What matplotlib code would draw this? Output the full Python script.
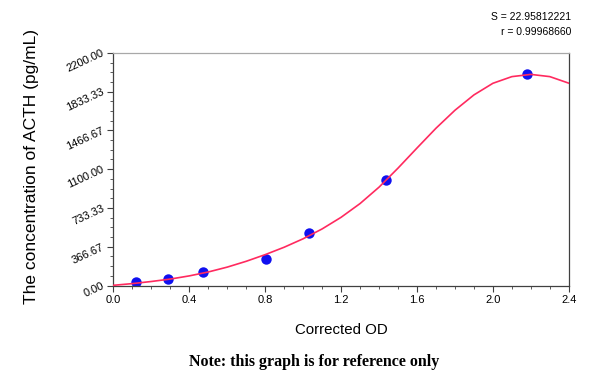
import numpy as np
import matplotlib
matplotlib.use("Agg")
import matplotlib.pyplot as plt
from matplotlib.ticker import MultipleLocator, FormatStrFormatter

# standards: corrected OD vs ACTH concentration
od = [0.118, 0.290, 0.474, 0.802, 1.032, 1.435, 2.179]
conc = [31.25, 62.5, 125, 250, 500, 1000, 2000]

# fitted curve, every 0.1 OD
curve_od = [0.0, 0.1, 0.2, 0.3, 0.4, 0.5, 0.6, 0.7, 0.8, 0.9, 1.0, 1.1, 1.2,
            1.3, 1.4, 1.5, 1.6, 1.7, 1.8, 1.9, 2.0, 2.1, 2.2, 2.3, 2.4]
curve_conc = [2, 18, 38, 61, 91, 128, 174, 229, 292, 362, 442, 535, 645,
              775, 930, 1110, 1300, 1487, 1657, 1802, 1912, 1975, 1996, 1975, 1913]

fit_s = "S = 22.95812221"
fit_r = "r = 0.99968660"

plt.rcParams["font.family"] = ["Liberation Sans", "DejaVu Sans"]

fig = plt.figure(figsize=(6, 3.72), dpi=100)
ax = fig.add_axes([0.189, 0.2325, 0.759, 0.6255])

ax.plot(curve_od, curve_conc, color="#ff2a5f", lw=1.2, zorder=3,
        solid_joinstyle="round")
ax.plot(od, conc, "o", color="#1010f0", ms=7.5, mec="none", zorder=2)

ax.set_xlim(0, 2.4)
ax.set_ylim(0, 2200)
ax.xaxis.set_major_locator(MultipleLocator(0.4))
ax.xaxis.set_minor_locator(MultipleLocator(0.1))
ax.yaxis.set_major_locator(MultipleLocator(2200 / 6))
ax.yaxis.set_minor_locator(MultipleLocator(2200 / 24))
ax.xaxis.set_major_formatter(FormatStrFormatter("%.1f"))
ax.yaxis.set_major_formatter(FormatStrFormatter("%.2f"))
ax.tick_params(which="major", length=4, width=0.8, color="#404040", labelsize=8, pad=3)
ax.tick_params(which="minor", length=2.5, width=0.6, color="#404040")
for lab in ax.get_yticklabels():
    lab.set_rotation(25)
    lab.set_rotation_mode("anchor")
    lab.set_ha("right")
    lab.set_va("center")

for side in ("left", "bottom", "right"):
    ax.spines[side].set_color("#404040")
    ax.spines[side].set_linewidth(0.9)
ax.spines["top"].set_color("#a8a8a8")
ax.spines["top"].set_linewidth(0.9)

ax.set_xlabel("Corrected OD", fontsize=10.8, labelpad=13)
ax.set_ylabel("The concentration of ACTH (pg/mL)", fontsize=12.5)
ax.yaxis.set_label_coords(-0.163, 0.51)

fig.text(0.952, 0.953, fit_s, ha="right", va="center", fontsize=7.5)
fig.text(0.952, 0.913, fit_r, ha="right", va="center", fontsize=7.5)
fig.text(0.523, 0.028, "Note: this graph is for reference only", ha="center", va="center",
         fontsize=11.5, fontweight="bold", family=["Liberation Serif", "DejaVu Serif"])

fig.savefig("out.png", dpi=100)
